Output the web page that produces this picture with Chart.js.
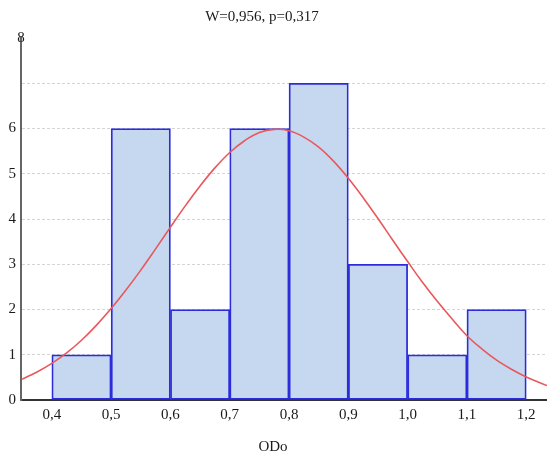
<!DOCTYPE html>
<html>
<head>
<meta charset="utf-8">
<script src="https://cdn.jsdelivr.net/npm/chart.js@4"></script>
<style>
  html, body { margin: 0; padding: 0; background: #fff; }
  #wrap { width: 547px; height: 455px; }
</style>
</head>
<body>
<div id="wrap"><canvas id="hist" width="547" height="455"></canvas></div>
<script>
// histogram bins (ODo) and counts
const binEdges = [0.4, 0.5, 0.6, 0.7, 0.8, 0.9, 1.0, 1.1, 1.2];
const counts = [1, 6, 2, 6, 7, 3, 1, 2];

// fitted normal curve
const curveX = [0.35, 0.375, 0.4, 0.425, 0.45, 0.475, 0.5, 0.525, 0.55, 0.575, 0.6, 0.625, 0.65, 0.675, 0.7, 0.725, 0.75, 0.775, 0.8, 0.825, 0.85, 0.875, 0.9, 0.925, 0.95, 0.975, 1.0, 1.025, 1.05, 1.075, 1.1, 1.125, 1.15, 1.175, 1.2, 1.235];
const curveY = [0.46, 0.62, 0.81, 1.04, 1.32, 1.65, 2.02, 2.43, 2.87, 3.34, 3.82, 4.29, 4.73, 5.13, 5.47, 5.73, 5.91, 5.98, 5.95, 5.81, 5.59, 5.28, 4.9, 4.47, 4.01, 3.53, 3.06, 2.6, 2.18, 1.79, 1.42, 1.13, 0.88, 0.68, 0.51, 0.32];

const xTicks = [0.4, 0.5, 0.6, 0.7, 0.8, 0.9, 1.0, 1.1, 1.2];
const yTicks = [0, 1, 2, 3, 4, 5, 6, 7, 8];
const hiddenY = [7, 8];
const titleText = "W=0,956, p=0,317";
const xTitle = "ODo";

const serif = "'Liberation Serif', 'DejaVu Serif', serif";
const tickFont = { family: serif, size: 15 };
const fmt = v => v.toFixed(1).replace(".", ",");

// texts placed by hand: title, axis title, and the "8" sitting on top of the y axis
const textPlugin = {
  id: "texts",
  afterDraw(chart) {
    const ctx = chart.ctx;
    const y = chart.scales.y;
    ctx.save();
    ctx.fillStyle = "#1a1a1a";
    ctx.font = "15px " + serif;
    ctx.textAlign = "center";
    ctx.textBaseline = "middle";
    ctx.fillText(titleText, 262, 17);
    ctx.fillText(xTitle, 273, 447);
    ctx.fillText("8", y.right, y.getPixelForValue(8));
    ctx.restore();
  }
};

new Chart(document.getElementById("hist"), {
  data: {
    datasets: [
      {
        type: "line",
        data: curveX.map((x, i) => ({ x: x, y: curveY[i] })),
        borderColor: "#e8585c",
        borderWidth: 1.6,
        pointRadius: 0,
        tension: 0.4,
        order: 0
      },
      {
        type: "bar",
        data: counts.map((c, i) => ({ x: (binEdges[i] + binEdges[i + 1]) / 2, y: c })),
        backgroundColor: "#c6d8f0",
        borderColor: "#2c2cdc",
        borderWidth: 1.8,
        borderSkipped: false,
        barPercentage: 1,
        categoryPercentage: 1,
        order: 1
      }
    ]
  },
  options: {
    responsive: false,
    animation: false,
    layout: { padding: { top: 38, left: 0, right: 0, bottom: 0 } },
    plugins: {
      legend: { display: false },
      tooltip: { enabled: false }
    },
    scales: {
      x: {
        type: "linear",
        min: 0.348,
        max: 1.235,
        offset: false,
        afterBuildTicks: s => { s.ticks = xTicks.map(v => ({ value: v })); },
        afterFit: s => { s.height = 55; },
        grid: { display: false, drawTicks: false },
        border: { color: "#333", width: 2 },
        ticks: { font: tickFont, color: "#1a1a1a", padding: 6, maxRotation: 0, callback: v => fmt(v) }
      },
      y: {
        type: "linear",
        min: 0,
        max: 8,
        afterBuildTicks: s => { s.ticks = yTicks.map(v => ({ value: v })); },
        afterFit: s => { s.width = 21; },
        grid: {
          drawTicks: false,
          color: c => (c.tick.value === 0 || c.tick.value === 8) ? "rgba(0,0,0,0)" : "#d4d4d4"
        },
        border: { color: "#666", width: 2, dash: [3, 2] },
        ticks: {
          font: tickFont,
          color: "#1a1a1a",
          padding: 5,
          callback: v => hiddenY.includes(v) ? "" : String(v)
        }
      }
    }
  },
  plugins: [textPlugin]
});
</script>
</body>
</html>
